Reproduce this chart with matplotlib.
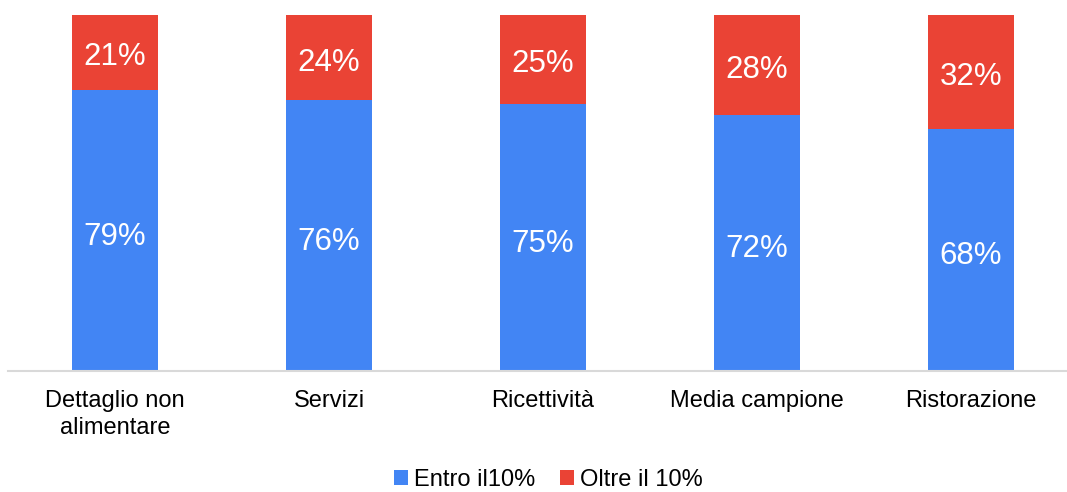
import matplotlib
matplotlib.use("Agg")
import matplotlib.pyplot as plt
import numpy as np

categories = ["Dettaglio non\nalimentare", "Servizi", "Ricettività", "Media campione", "Ristorazione"]
entro = [79, 76, 75, 72, 68]
oltre = [21, 24, 25, 28, 32]
series_names = ["Entro il10%", "Oltre il 10%"]

blue = "#4285F4"
red = "#EA4335"

plt.rcParams['font.family'] = ['Liberation Sans', 'DejaVu Sans']

fig = plt.figure(figsize=(10.67, 4.92), dpi=100)
ax = fig.add_axes([8/1067, 121/492, 1070/1067, 356/492])

x = np.arange(len(categories))
w = 0.40
b1 = ax.bar(x, entro, w, color=blue, label=series_names[0], zorder=2)
b2 = ax.bar(x, oltre, w, bottom=entro, color=red, label=series_names[1], zorder=2)

for i in range(len(categories)):
    ax.annotate(f"{entro[i]}%", (x[i], entro[i] / 2), xytext=(0, -2),
                textcoords="offset points", ha="center", va="center_baseline",
                color="white", fontsize=22.5)
    ax.annotate(f"{oltre[i]}%", (x[i], entro[i] + oltre[i] / 2), xytext=(0, -1),
                textcoords="offset points", ha="center", va="center_baseline",
                color="white", fontsize=22.5)

ax.set_xlim(-0.5, len(categories) - 0.5)
ax.set_ylim(0, 100)
ax.set_yticks([])
ax.set_xticks(x)
ax.set_xticklabels(categories, fontsize=17, linespacing=1.28)
ax.tick_params(axis='x', length=0, pad=14)
for s in ["top", "right", "left"]:
    ax.spines[s].set_visible(False)
ax.spines["bottom"].set_color("#d9d9d9")
ax.spines["bottom"].set_linewidth(1.5)

fig.legend(handles=[b1, b2], labels=series_names, loc="center",
           bbox_to_anchor=(548/1067, 1 - 480/492), ncol=2, frameon=False,
           fontsize=17, handlelength=0.6, handleheight=0.6,
           handletextpad=0.25, columnspacing=1.05)

fig.savefig("out.png", dpi=100)
